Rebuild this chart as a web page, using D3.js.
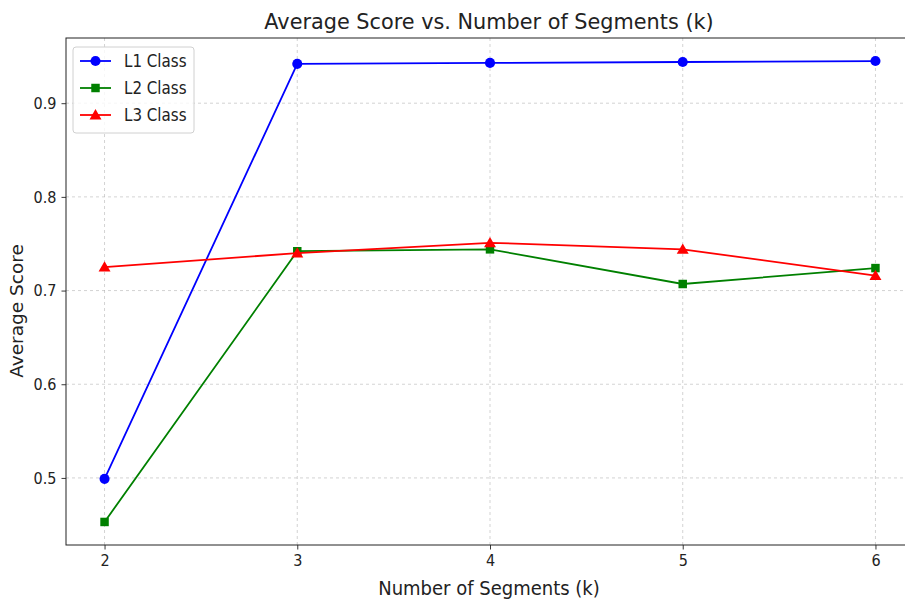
<!DOCTYPE html>
<html><head><meta charset="utf-8">
<script src="https://cdn.jsdelivr.net/npm/d3@7"></script>
<style>
body{margin:0;background:#fff;}
svg{display:block;}
</style></head>
<body>
<svg id="chart" width="905" height="599"></svg>
<script>
const segments = [2, 3, 4, 5, 6];
const l1Values = [0.499, 0.942, 0.943, 0.944, 0.945];
const l2Values = [0.453, 0.742, 0.744, 0.707, 0.724];
const l3Values = [0.725, 0.740, 0.751, 0.744, 0.716];
const seriesNames = ["L1 Class", "L2 Class", "L3 Class"];
const xTicks = [2, 3, 4, 5, 6];
const yTicks = [0.5, 0.6, 0.7, 0.8, 0.9];

(function () {
const series = [
  {name: seriesNames[0], values: l1Values, color: "blue", marker: "circle"},
  {name: seriesNames[1], values: l2Values, color: "green", marker: "square"},
  {name: seriesNames[2], values: l3Values, color: "red", marker: "triangle"}
];

const svg = d3.select("#chart");
const pLeft = 66, pTop = 38, pBottom = 545, pRight = 914;
const x = d3.scaleLinear().domain([1.8, 6.2]).range([pLeft, pRight]);
const y = d3.scaleLinear().domain([0.4284, 0.9696]).range([pBottom, pTop]);

const condensed = "'DejaVu Sans Condensed', 'DejaVu Sans', sans-serif";
const normal = "'DejaVu Sans', sans-serif";

// grid
const grid = svg.append("g");
grid.selectAll(null).data(xTicks).enter().append("line")
  .attr("x1", d => x(d)).attr("x2", d => x(d)).attr("y1", pTop).attr("y2", pBottom)
  .attr("stroke", "#b0b0b0").attr("stroke-opacity", 0.7).attr("stroke-width", 0.8).attr("stroke-dasharray", "3,3");
grid.selectAll(null).data(yTicks).enter().append("line")
  .attr("x1", pLeft).attr("x2", pRight).attr("y1", d => y(d)).attr("y2", d => y(d))
  .attr("stroke", "#b0b0b0").attr("stroke-opacity", 0.7).attr("stroke-width", 0.8).attr("stroke-dasharray", "3,3");

// axes
const xAxis = svg.append("g").attr("transform", `translate(0,${pBottom})`)
  .call(d3.axisBottom(x).tickValues(xTicks).tickFormat(d3.format("d")).tickSize(4.5).tickPadding(5));
const yAxis = svg.append("g").attr("transform", `translate(${pLeft},0)`)
  .call(d3.axisLeft(y).tickValues(yTicks).tickFormat(d3.format(".1f")).tickSize(4.5).tickPadding(5));
[xAxis, yAxis].forEach(a => {
  a.select(".domain").remove();
  a.selectAll("text").attr("font-family", condensed).attr("font-size", 16).attr("fill", "#222");
  a.selectAll("line").attr("stroke", "#222").attr("stroke-width", 0.9);
});

// frame
svg.append("rect").attr("x", pLeft).attr("y", pTop).attr("width", pRight - pLeft).attr("height", pBottom - pTop)
  .attr("fill", "none").attr("stroke", "#222").attr("stroke-width", 1);

const symbolFor = m => m === "circle" ? d3.symbolCircle : m === "square" ? d3.symbolSquare : d3.symbolTriangle;
const sizeFor = m => m === "circle" ? 80 : m === "square" ? 72 : 62;

const line = d3.line().x(d => x(d[0])).y(d => y(d[1]));
series.forEach(s => {
  const pts = segments.map((k, i) => [k, s.values[i]]);
  svg.append("path").datum(pts).attr("d", line)
    .attr("fill", "none").attr("stroke", s.color).attr("stroke-width", 1.8);
  svg.selectAll(null).data(pts).enter().append("path")
    .attr("d", d3.symbol().type(symbolFor(s.marker)).size(sizeFor(s.marker)))
    .attr("transform", d => `translate(${x(d[0])},${y(d[1]) + (s.marker === "triangle" ? 1 : 0)})`)
    .attr("fill", s.color);
});

// legend
const lg = svg.append("g");
lg.append("rect").attr("x", 73).attr("y", 47).attr("width", 121).attr("height", 86)
  .attr("rx", 3).attr("fill", "#fff").attr("fill-opacity", 0.8).attr("stroke", "#d0d0d0");
series.forEach((s, i) => {
  const cy = 61 + i * 27;
  lg.append("line").attr("x1", 80).attr("x2", 111).attr("y1", cy).attr("y2", cy)
    .attr("stroke", s.color).attr("stroke-width", 1.8);
  lg.append("path").attr("d", d3.symbol().type(symbolFor(s.marker)).size(sizeFor(s.marker)))
    .attr("transform", `translate(95.5,${cy + (s.marker === "triangle" ? 1 : 0)})`).attr("fill", s.color);
  lg.append("text").attr("x", 124).attr("y", cy).attr("dy", "0.35em")
    .attr("font-family", condensed).attr("font-size", 16.8).attr("fill", "#222").text(s.name);
});

// title & labels
svg.append("text").attr("x", 489).attr("y", 29).attr("text-anchor", "middle")
  .attr("font-family", normal).attr("font-size", 20.8).attr("fill", "#222")
  .text("Average Score vs. Number of Segments (k)");
svg.append("text").attr("x", 489).attr("y", 595).attr("text-anchor", "middle")
  .attr("font-family", condensed).attr("font-size", 20).attr("fill", "#222")
  .text("Number of Segments (k)");
svg.append("text").attr("transform", `translate(23,311) rotate(-90)`).attr("text-anchor", "middle")
  .attr("font-family", normal).attr("font-size", 18.5).attr("fill", "#222")
  .text("Average Score");
})();
</script>
</body></html>
